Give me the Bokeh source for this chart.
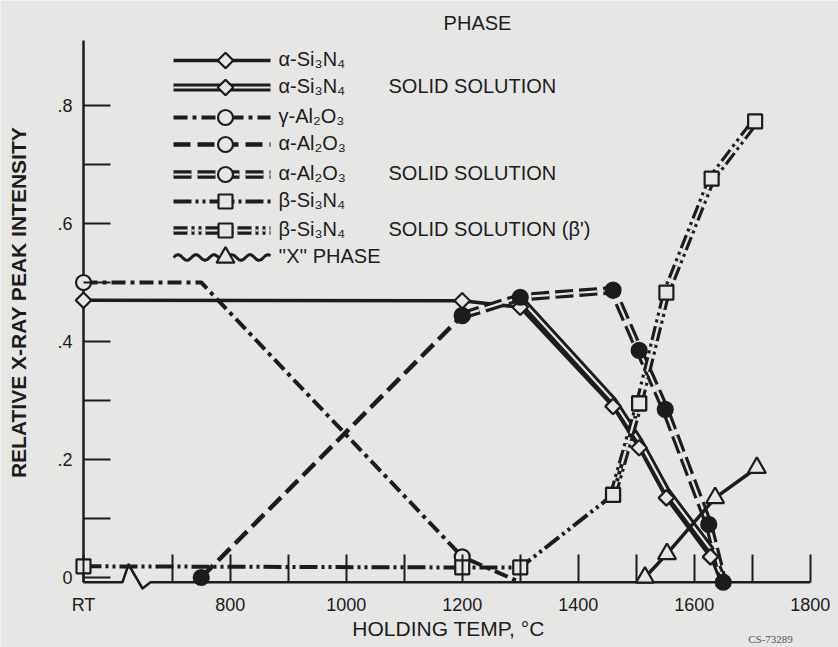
import numpy as np
from bokeh.plotting import figure
from bokeh.models import Range1d, FixedTicker, Label
from bokeh.core.properties import value
from bokeh.embed import file_html
from bokeh.resources import INLINE

# ---------------- data ----------------
RT = 547  # axis position of room temperature (left of the axis break)

x_tick_values = [RT, 700, 800, 900, 1000, 1100, 1200, 1300, 1400, 1500, 1600, 1700, 1800]
x_tick_labels = ["RT", "", "800", "", "1000", "", "1200", "", "1400", "", "1600", "", "1800"]
y_tick_values = [0, 0.1, 0.2, 0.3, 0.4, 0.5, 0.6, 0.7, 0.8]
y_tick_labels = ["0", "", ".2", "", ".4", "", ".6", "", ".8"]

# alpha-Si3N4
a_si3n4_t = [RT, 1200, 1300, 1460, 1505, 1552, 1628, 1650]
a_si3n4_v = [0.470, 0.469, 0.458, 0.290, 0.220, 0.135, 0.035, -0.006]
a_si3n4_mt = [RT, 1200, 1300, 1460, 1505, 1552, 1628]
a_si3n4_mv = [0.470, 0.469, 0.458, 0.290, 0.220, 0.135, 0.035]
# alpha-Si3N4 solid solution
a_si3n4_ss_t = [1300, 1460, 1505, 1552, 1628, 1650]
a_si3n4_ss_v = [0.472, 0.300, 0.232, 0.147, 0.048, -0.006]
# gamma-Al2O3
g_al2o3_t = [RT, 750, 1200, 1300]
g_al2o3_v = [0.500, 0.500, 0.035, -0.008]
g_al2o3_mt = [RT, 1200]
g_al2o3_mv = [0.500, 0.035]
# alpha-Al2O3
a_al2o3_t = [750, 1200]
a_al2o3_v = [0.000, 0.444]
# alpha-Al2O3 solid solution
a_al2o3_ss_t = [1200, 1300, 1460, 1505, 1550, 1625, 1650]
a_al2o3_ss_v = [0.444, 0.475, 0.487, 0.385, 0.285, 0.090, -0.008]
# beta-Si3N4
b_si3n4_t = [RT, 1200, 1300, 1460, 1505]
b_si3n4_v = [0.019, 0.017, 0.017, 0.140, 0.295]
# beta-Si3N4 solid solution (beta')
b_ss_t = [1460, 1505, 1552, 1630, 1705]
b_ss_v = [0.140, 0.295, 0.483, 0.676, 0.773]
# "X" phase
x_phase_t = [1515, 1553, 1636, 1708]
x_phase_v = [0.000, 0.040, 0.135, 0.186]

legend_names = ["α-Si₃N₄", "α-Si₃N₄", "γ-Al₂O₃", "α-Al₂O₃", "α-Al₂O₃", "β-Si₃N₄", "β-Si₃N₄", "''X'' PHASE"]
legend_notes = ["", "SOLID SOLUTION", "", "", "SOLID SOLUTION", "", "SOLID SOLUTION (β')", ""]

# ---------------- styling / layout ----------------
BG = "#e6e6e4"
INK = "#1c1c1c"
FONT = "Liberation Sans"
PX = 0.58          # pixels per degree C
AXIS_V = -0.008    # vertical position of the temperature axis
W, H = 838, 647


def tx(px):
    return RT + (px - 83) / PX


def vy(py):
    return (577 - py) / 590.0


STYLES = {
    "thin": [dict(w=3.5, d="solid", c=INK)],
    "double": [dict(w=8, d="solid", c=INK), dict(w=2.2, d="solid", c=BG)],
    "dashdot": [dict(w=4, d="14 5 4 5", c=INK)],
    "dashed": [dict(w=4.5, d="17 7", c=INK)],
    "double_dashed": [dict(w=8.5, d="18 6", c=INK), dict(w=2.2, d="18 6", c=BG)],
    "dashdotdot": [dict(w=4, d="18 4 3 4 3 4", c=INK)],
    "double_dashdotdot": [dict(w=8.5, d="14 4 3 4 3 4", c=INK), dict(w=2.2, d="14 4 3 4 3 4", c=BG)],
    "solid_x": [dict(w=3.5, d="solid", c=INK)],
}

MARKERS = {
    "diamond": dict(marker="square", angle=np.pi / 4, size=11, fill_color=BG),
    "circle": dict(marker="circle", angle=0, size=15, fill_color=BG),
    "dot": dict(marker="circle", angle=0, size=15, fill_color=INK),
    "square": dict(marker="square", angle=0, size=14, fill_color=BG),
    "triangle": dict(marker="triangle", angle=0, size=18, fill_color=BG),
}

p = figure(width=W, height=H, title=None,
           x_range=Range1d(tx(0), tx(W)), y_range=Range1d(vy(H), vy(0)),
           output_backend="svg", toolbar_location=None,
           min_border_left=0, min_border_right=0, min_border_top=0, min_border_bottom=0)
p.grid.visible = False
p.outline_line_color = None
p.background_fill_color = BG
p.border_fill_color = BG


def draw_line(xs, ys, style):
    for s in STYLES[style]:
        p.line(xs, ys, line_width=s["w"], line_dash=s["d"], line_color=s["c"],
               line_join="round")


def draw_markers(xs, ys, kind):
    m = MARKERS[kind]
    p.scatter(xs, ys, marker=m["marker"], angle=m["angle"], size=m["size"],
              fill_color=m["fill_color"], line_color=INK, line_width=2.2)


# axis lines (with break symbol on the temperature axis)
p.line([RT, RT], [AXIS_V, vy(40)], line_width=2.5, line_color=INK)
p.line([RT, tx(122), tx(128), tx(142), tx(150), 1800],
       [AXIS_V, AXIS_V, vy(564), vy(588), AXIS_V, AXIS_V],
       line_width=2.5, line_color=INK, line_join="round")

# series lines
draw_line(a_si3n4_t, a_si3n4_v, "thin")
draw_line(a_si3n4_ss_t, a_si3n4_ss_v, "double")
draw_line(g_al2o3_t, g_al2o3_v, "dashdot")
draw_line(a_al2o3_t, a_al2o3_v, "dashed")
draw_line(a_al2o3_ss_t, a_al2o3_ss_v, "double_dashed")
draw_line(b_si3n4_t, b_si3n4_v, "dashdotdot")
draw_line(b_ss_t, b_ss_v, "double_dashdotdot")
draw_line(x_phase_t, x_phase_v, "solid_x")

# series markers
draw_markers(a_si3n4_mt, a_si3n4_mv, "diamond")
draw_markers(g_al2o3_mt, g_al2o3_mv, "circle")
draw_markers(b_si3n4_t, b_si3n4_v, "square")
draw_markers(b_ss_t, b_ss_v, "square")
draw_markers(x_phase_t, x_phase_v, "triangle")
draw_markers(a_al2o3_t, a_al2o3_v, "dot")
draw_markers(a_al2o3_ss_t, a_al2o3_ss_v, "dot")

# ---------------- legend (drawn in the plot) ----------------
legend_py = [60, 87, 117, 144, 174, 201, 230, 257]
legend_styles = ["thin", "double", "dashdot", "dashed", "double_dashed",
                 "dashdotdot", "double_dashdotdot", "wavy"]
legend_markers = ["diamond", "diamond", "circle", "circle", "circle",
                  "square", "square", "triangle"]

p.text([tx(477)], [vy(22)], text=["PHASE"], text_font=value(FONT),
       text_font_size="20px", text_align="center", text_baseline="middle",
       text_color=INK)

for py, st, mk in zip(legend_py, legend_styles, legend_markers):
    if st == "wavy":
        wx = np.linspace(tx(173), tx(270), 41)
        wy = vy(py) + 0.005 * np.sin((wx - tx(173)) * PX / 18.0 * 2 * np.pi)
        p.line(wx, wy, line_width=3, line_color=INK, line_join="round")
    else:
        draw_line([tx(173), tx(270)], [vy(py), vy(py)], st)
    draw_markers([tx(225)], [vy(py)], mk)

p.text([tx(278)] * len(legend_names), [vy(py - 2) for py in legend_py],
       text=legend_names, text_font=value(FONT), text_font_size="20px",
       text_align="left", text_baseline="middle", text_color=INK)
note_idx = [i for i, n in enumerate(legend_notes) if n]
p.text([tx(388)] * len(note_idx), [vy(legend_py[i] - 2) for i in note_idx],
       text=[legend_notes[i] for i in note_idx], text_font=value(FONT),
       text_font_size="20px", text_align="left", text_baseline="middle",
       text_color=INK)

# ---------------- axes ----------------
xa = p.xaxis[0]
xa.ticker = FixedTicker(ticks=x_tick_values, minor_ticks=[])
xa.major_label_overrides = {t: l for t, l in zip(x_tick_values, x_tick_labels)}
xa.fixed_location = AXIS_V
xa.axis_line_color = None
xa.major_tick_in = 28
xa.major_tick_out = 0
xa.major_tick_line_width = 2
xa.major_tick_line_color = INK
xa.minor_tick_line_color = None
xa.major_label_standoff = 13
xa.major_label_text_font = FONT
xa.major_label_text_font_size = "18px"
xa.major_label_text_color = INK

ya = p.yaxis[0]
ya.ticker = FixedTicker(ticks=y_tick_values, minor_ticks=[])
ya.major_label_overrides = {t: l for t, l in zip(y_tick_values, y_tick_labels)}
ya.fixed_location = RT
ya.axis_line_color = None
ya.major_tick_in = 27
ya.major_tick_out = 0
ya.major_tick_line_width = 2
ya.major_tick_line_color = INK
ya.minor_tick_line_color = None
ya.major_label_standoff = 11
ya.major_label_text_font = FONT
ya.major_label_text_font_size = "18px"
ya.major_label_text_color = INK

# axis titles and figure number
p.add_layout(Label(x=tx(18), y=vy(302), text="RELATIVE X-RAY PEAK INTENSITY",
                   angle=np.pi / 2, text_align="center", text_baseline="middle",
                   text_font=FONT, text_font_size="21px", text_font_style="bold",
                   text_color=INK))
p.add_layout(Label(x=tx(448), y=vy(628), text="HOLDING TEMP, °C",
                   text_align="center", text_baseline="middle",
                   text_font=FONT, text_font_size="21px", text_color=INK))
p.add_layout(Label(x=tx(770), y=vy(638), text="CS-73289",
                   text_align="center", text_baseline="middle",
                   text_font="Liberation Serif", text_font_size="11px",
                   text_color="#555555"))

html = file_html(p, INLINE)
html = html.replace("<body>", '<body style="background:%s">' % BG, 1)
open("out.html", "w").write(html)
